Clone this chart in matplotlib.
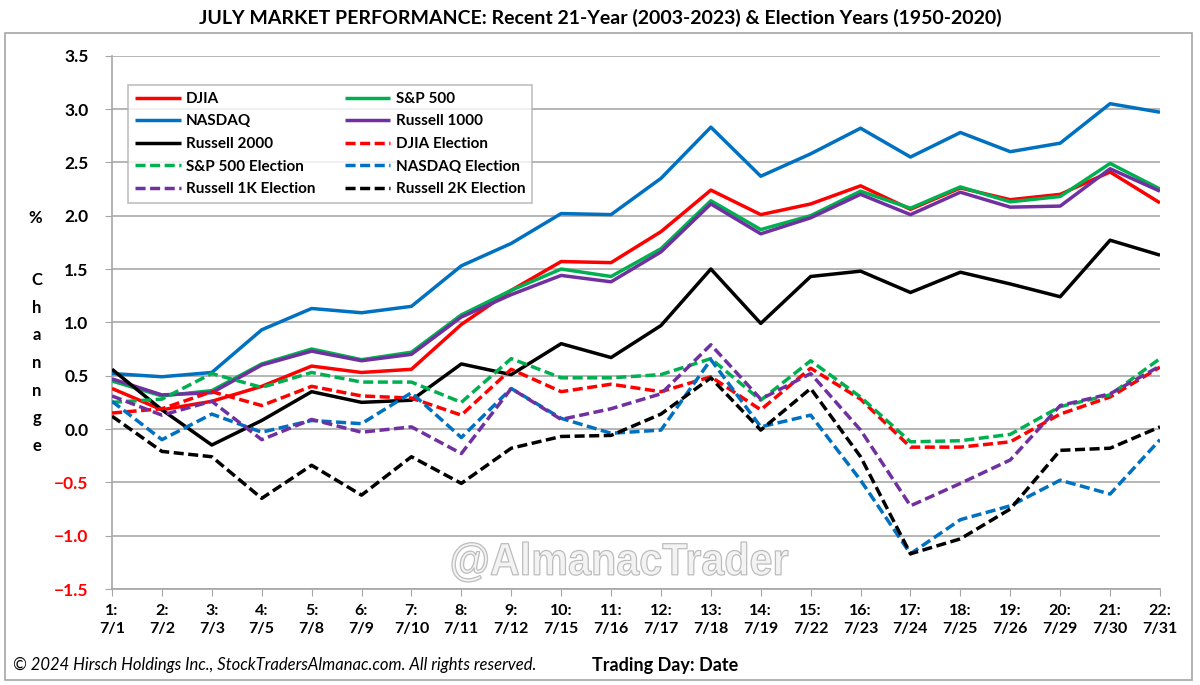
import matplotlib
matplotlib.use('Agg')
import numpy as np
import matplotlib.pyplot as plt
from matplotlib.textpath import TextPath
from matplotlib.patches import PathPatch, Rectangle
from matplotlib.font_manager import FontProperties
from matplotlib.transforms import Affine2D

plt.rcParams['font.family'] = ['Lato', 'DejaVu Sans']

# ---------------- data ----------------
days = list(range(1, 23))
dates = ['7/1', '7/2', '7/3', '7/5', '7/8', '7/9', '7/10', '7/11', '7/12', '7/15', '7/16',
         '7/17', '7/18', '7/19', '7/22', '7/23', '7/24', '7/25', '7/26', '7/29', '7/30', '7/31']
tick_labels = [f"{d}:\n{dt}" for d, dt in zip(days, dates)]

djia = [0.38, 0.18, 0.26, 0.40, 0.59, 0.53, 0.56, 0.98, 1.30, 1.57, 1.56,
        1.85, 2.24, 2.01, 2.11, 2.28, 2.06, 2.26, 2.15, 2.20, 2.41, 2.12]
sp500 = [0.45, 0.31, 0.36, 0.61, 0.75, 0.65, 0.72, 1.07, 1.30, 1.50, 1.43,
         1.69, 2.14, 1.87, 2.00, 2.23, 2.07, 2.27, 2.13, 2.18, 2.49, 2.25]
nasdaq = [0.52, 0.49, 0.53, 0.93, 1.13, 1.09, 1.15, 1.53, 1.74, 2.02, 2.01,
          2.35, 2.83, 2.37, 2.58, 2.82, 2.55, 2.78, 2.60, 2.68, 3.05, 2.97]
r1000 = [0.47, 0.32, 0.34, 0.60, 0.73, 0.64, 0.70, 1.05, 1.26, 1.44, 1.38,
         1.66, 2.11, 1.83, 1.98, 2.20, 2.01, 2.22, 2.08, 2.09, 2.44, 2.23]
r2000 = [0.56, 0.18, -0.15, 0.08, 0.35, 0.25, 0.27, 0.61, 0.51, 0.80, 0.67,
         0.97, 1.50, 0.99, 1.43, 1.48, 1.28, 1.47, 1.36, 1.24, 1.77, 1.63]
djia_el = [0.15, 0.19, 0.35, 0.22, 0.40, 0.31, 0.29, 0.13, 0.56, 0.35, 0.42,
           0.35, 0.49, 0.18, 0.57, 0.28, -0.17, -0.17, -0.12, 0.14, 0.30, 0.58]
sp500_el = [0.25, 0.28, 0.52, 0.39, 0.53, 0.44, 0.44, 0.25, 0.66, 0.48, 0.48,
            0.51, 0.66, 0.27, 0.64, 0.30, -0.12, -0.11, -0.05, 0.21, 0.32, 0.66]
nasdaq_el = [0.26, -0.10, 0.14, -0.03, 0.08, 0.05, 0.34, -0.08, 0.38, 0.10, -0.04,
             -0.01, 0.65, 0.02, 0.13, -0.48, -1.17, -0.85, -0.72, -0.48, -0.61, -0.10]
r1k_el = [0.31, 0.13, 0.26, -0.10, 0.09, -0.03, 0.02, -0.23, 0.38, 0.09, 0.19,
          0.33, 0.79, 0.28, 0.52, -0.01, -0.72, -0.51, -0.29, 0.22, 0.33, 0.59]
r2k_el = [0.12, -0.21, -0.26, -0.65, -0.34, -0.62, -0.26, -0.51, -0.18, -0.07, -0.06,
          0.14, 0.48, -0.01, 0.38, -0.26, -1.17, -1.03, -0.75, -0.20, -0.18, 0.02]

series_names = ['DJIA', 'S&P 500', 'NASDAQ', 'Russell 1000', 'Russell 2000',
                'DJIA Election', 'S&P 500 Election', 'NASDAQ Election',
                'Russell 1K Election', 'Russell 2K Election']
series_values = [djia, sp500, nasdaq, r1000, r2000,
                 djia_el, sp500_el, nasdaq_el, r1k_el, r2k_el]
y_ticks = [-1.5, -1.0, -0.5, 0.0, 0.5, 1.0, 1.5, 2.0, 2.5, 3.0, 3.5]

# ---------------- styles ----------------
RED, GREEN, BLUE, PURPLE, BLACK = '#FF0000', '#00B050', '#0070C0', '#7030A0', '#000000'
colors = [RED, GREEN, BLUE, PURPLE, BLACK, RED, GREEN, BLUE, PURPLE, BLACK]
dashed = [False] * 5 + [True] * 5
DASH = (0, (2.9, 1.3))

W, H = 1200, 685
fig = plt.figure(figsize=(W / 100, H / 100), dpi=100)
fig.patch.set_facecolor('white')

ax = fig.add_axes([112 / W, 96 / H, 1048 / W, 533.3 / H])

handles = []
for name, vals, c, d in zip(series_names, series_values, colors, dashed):
    ln, = ax.plot(days, vals, color=c, lw=2.5, label=name,
                  linestyle=DASH if d else '-', solid_capstyle='butt',
                  dash_capstyle='butt', zorder=3)
    handles.append(ln)

ax.set_xlim(1, 22)
ax.set_ylim(-1.5, 3.5)
ax.set_yticks(y_ticks)
ax.set_yticklabels([f"{v:.1f}".replace('-', '\u2212') for v in y_ticks],
                   fontsize=12.5, fontweight='bold')
for lab, v in zip(ax.get_yticklabels(), y_ticks):
    lab.set_color('#FF0000' if v < 0 else 'black')
ax.set_xticks(days)
ax.set_xticklabels(tick_labels, fontsize=11.5, fontweight='bold', linespacing=1.3)

ax.grid(axis='y', color='#b5b5b5', lw=1.4, zorder=0)
ax.set_axisbelow(True)
for s in ['top', 'right']:
    ax.spines[s].set_visible(False)
for s in ['left', 'bottom']:
    ax.spines[s].set_color('#a6a6a6')
    ax.spines[s].set_linewidth(1.2)
ax.tick_params(axis='y', direction='out', length=5, color='#a6a6a6', pad=12)
ax.tick_params(axis='x', direction='out', length=5, color='#a6a6a6', pad=6)

# legend: row-major order in 2 columns
order = [0, 2, 4, 6, 8, 1, 3, 5, 7, 9]
leg = fig.legend([handles[i] for i in order], [series_names[i] for i in order],
                 ncol=2, loc='upper left', bbox_to_anchor=(128 / W, 1 - 85 / H),
                 prop={'weight': 'bold', 'size': 11}, frameon=True, fancybox=False,
                 edgecolor='#b0b0b0', handlelength=3.0, handletextpad=0.35,
                 columnspacing=1.9, labelspacing=0.56, borderpad=0.45,
                 borderaxespad=0)
leg.get_frame().set_linewidth(1.2)

# title
fig.text(0.5, 1 - 18 / H,
         'JULY MARKET PERFORMANCE: Recent 21-Year (2003-2023) & Election Years (1950-2020)',
         ha='center', va='center', fontsize=14, fontweight='bold')

# y label
fig.text(35 / W, 1 - 218 / H, '%', ha='center', va='center', fontsize=12, fontweight='bold')
fig.text(37 / W, 1 - 363 / H, 'C\nh\na\nn\nn\ng\ne', ha='center', va='center',
         fontsize=12, fontweight='bold', linespacing=1.9)

# footer
fig.text(13 / W, 1 - 665 / H,
         '\u00a9 2024 Hirsch Holdings Inc., StockTradersAlmanac.com. All rights reserved.',
         ha='left', va='center', fontsize=12, style='italic')
fig.text(592 / W, 1 - 665 / H, 'Trading Day: Date', ha='left', va='center',
         fontsize=13, fontweight='bold')

# frame
fig.patches.append(Rectangle((5 / W, 5 / H), 1187 / W, 647 / H, transform=fig.transFigure,
                             fill=False, edgecolor='#a6a6a6', lw=1.2))

# watermark
tp = TextPath((0, 0), '@AlmanacTrader', size=1,
              prop=FontProperties(family='Liberation Sans', weight='bold'))
ext = tp.get_extents()
x0, x1, y0, y1 = 452, 788, 685 - 582, 685 - 542
sx = (x1 - x0) / ext.width
sy = (y1 - y0) / ext.height
tr = (Affine2D().translate(-ext.x0, -ext.y0).scale(sx / 100, sy / 100)
      .translate(x0 / 100, y0 / 100) + fig.dpi_scale_trans)
fig.patches.append(PathPatch(tp, transform=tr, facecolor='#f3f3f3',
                             edgecolor='#bdbdbd', lw=0.9, zorder=1))

fig.savefig('out.png', dpi=100)
